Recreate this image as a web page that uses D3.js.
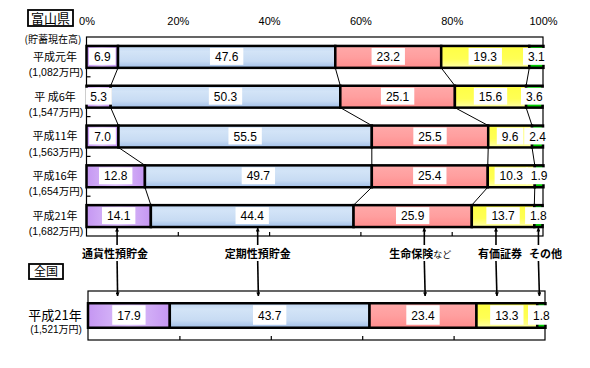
<!DOCTYPE html>
<html>
<head>
<meta charset="utf-8">
<script src="https://cdnjs.cloudflare.com/ajax/libs/d3/7.8.5/d3.min.js"></script>
<style>
    body { margin: 0; background: #fff; }
    svg text { font-family: "Liberation Sans", "Noto Sans CJK JP", sans-serif; fill: #000; }
    .jp { font-family: "Noto Sans CJK JP", sans-serif; }
    .num { font-family: "Liberation Sans Narrow", "Liberation Sans", sans-serif; font-size: 12px; }
</style>
</head>
<body>
<svg id="chart" width="590" height="368"></svg>
<script>
// data (percent of savings)
const categories = ['通貨性預貯金', '定期性預貯金', '生命保険など', '有価証券', 'その他'];

const toyamaYears = ['平成元年', '平 成6年', '平成11年', '平成16年', '平成21年'];
const toyamaTotals = ['(1,082万円)', '(1,547万円)', '(1,563万円)', '(1,654万円)', '(1,682万円)'];
const toyamaCurrency = [6.9, 5.3, 7.0, 12.8, 14.1];
const toyamaTime = [47.6, 50.3, 55.5, 49.7, 44.4];
const toyamaInsurance = [23.2, 25.1, 25.5, 25.4, 25.9];
const toyamaSecurities = [19.3, 15.6, 9.6, 10.3, 13.7];
const toyamaOther = [3.1, 3.6, 2.4, 1.9, 1.8];

const nationYears = ['平成21年'];
const nationTotals = ['(1,521万円)'];
const nationValues = [17.9, 43.7, 23.4, 13.3, 1.8];

const tickValues = [0, 20, 40, 60, 80, 100];

const keys = categories;

const toyamaRows = toyamaYears.map(function(year, i) {
    return {
        year: year,
        total: toyamaTotals[i],
        [keys[0]]: toyamaCurrency[i],
        [keys[1]]: toyamaTime[i],
        [keys[2]]: toyamaInsurance[i],
        [keys[3]]: toyamaSecurities[i],
        [keys[4]]: toyamaOther[i]
    };
});

const nationRows = nationYears.map(function(year, i) {
    let row = { year: year, total: nationTotals[i] };
    keys.forEach(function(k, j) { row[k] = nationValues[j]; });
    return row;
});

const svg = d3.select('#chart');
const defs = svg.append('defs');

function addGradient(id, horizontal, stops) {
    let g = defs.append('linearGradient').attr('id', id)
        .attr('x1', 0).attr('y1', 0)
        .attr('x2', horizontal ? 1 : 0).attr('y2', horizontal ? 0 : 1);
    stops.forEach(function(s) {
        g.append('stop').attr('offset', s[0]).attr('stop-color', s[1]);
    });
}

addGradient('fill0', true, [[0, '#c596f2'], [0.5, '#dcc2fa'], [1, '#c596f2']]);
addGradient('fill1', false, [[0, '#c0d6f2'], [0.25, '#d3e4f7'], [0.7, '#c7dbf3'], [1, '#a0bee8']]);
addGradient('fill2', false, [[0, '#ffa9a9'], [0.5, '#ff9f9f'], [1, '#ff8c8c']]);
addGradient('fill3', false, [[0, '#ffff44'], [0.6, '#ffff55'], [1, '#ffffa8']]);
addGradient('fill4', false, [[0, '#00cc00'], [1, '#00cc00']]);

// arrowheads
['up', 'down'].forEach(function(dir) {
    defs.append('marker')
        .attr('id', 'arrow-' + dir)
        .attr('viewBox', '0 0 10 10')
        .attr('refX', 9).attr('refY', 5)
        .attr('markerWidth', 4).attr('markerHeight', 4)
        .attr('markerUnits', 'userSpaceOnUse')
        .attr('orient', 'auto')
        .append('path').attr('d', 'M0,0 L10,5 L0,10 Z').attr('fill', '#000');
});

const xTop = d3.scaleLinear().domain([0, 100]).range([86.5, 543]);
const yTop = d3.scaleBand().domain(toyamaYears).range([37, 236]).paddingInner(0.45).paddingOuter(0.225);

const xBot = d3.scaleLinear().domain([0, 100]).range([88, 545]);
const yBot = d3.scaleBand().domain(nationYears).range([291, 340]).paddingInner(0.5).paddingOuter(0.25);

function drawFrame(x, y) {
    let r = y.range();
    svg.append('rect')
        .attr('x', x(0)).attr('y', r[0])
        .attr('width', x(100) - x(0)).attr('height', r[1] - r[0])
        .attr('fill', '#fff').attr('stroke', '#000').attr('stroke-width', 1.2);

    let bottom = svg.append('g')
        .attr('transform', 'translate(0,' + r[1] + ')')
        .call(d3.axisBottom(x).tickValues([20, 40, 60, 80]).tickSizeInner(-4).tickSizeOuter(0).tickFormat(''));
    bottom.select('.domain').remove();
    bottom.selectAll('line').attr('stroke-width', 1.2);

    // ticks between categories on the left
    let step = y.step(), gap = step * y.paddingInner();
    svg.selectAll(null)
        .data(y.domain().slice(1))
        .join('line')
        .attr('x1', x(0)).attr('x2', x(0) + 4)
        .attr('y1', d => y(d) - gap / 2).attr('y2', d => y(d) - gap / 2)
        .attr('stroke', '#000').attr('stroke-width', 1.2);
}

function drawStack(rows, x, y, withLinks) {
    let stacked = d3.stack().keys(keys)(rows);
    let bw = y.bandwidth();

    if (withLinks) {
        for (let k = 0; k < keys.length - 1; k++) {
            let s = stacked[k];
            for (let i = 0; i < s.length - 1; i++) {
                svg.append('line')
                    .attr('x1', x(s[i][1])).attr('y1', y(s[i].data.year) + bw)
                    .attr('x2', x(s[i + 1][1])).attr('y2', y(s[i + 1].data.year))
                    .attr('stroke', '#000').attr('stroke-width', 1);
            }
        }
    }

    svg.append('g').selectAll('g')
        .data(stacked)
        .join('g')
        .attr('fill', (d, i) => 'url(#fill' + i + ')')
        .selectAll('rect')
        .data(d => d)
        .join('rect')
        .attr('x', d => x(d[0]))
        .attr('y', d => y(d.data.year))
        .attr('width', d => x(d[1]) - x(d[0]))
        .attr('height', bw)
        .attr('stroke', '#000')
        .attr('stroke-width', 2.5);

    // value labels in white boxes
    stacked.forEach(function(s) {
        s.forEach(function(d) {
            let cx = (x(d[0]) + x(d[1])) / 2,
                top = y(d.data.year);
            let lg = svg.append('g');
            let box = lg.append('rect').attr('fill', '#fff');
            let t = lg.append('text')
                .attr('class', 'num')
                .attr('x', cx).attr('y', top + bw / 2 + 4)
                .attr('text-anchor', 'middle')
                .text((d[1] - d[0]).toFixed(1));
            let w = t.node().getComputedTextLength() + 10;
            box.attr('x', cx - w / 2).attr('y', top + 2)
                .attr('width', w).attr('height', bw - 5);
        });
    });
}

function drawRowLabels(rows, y, size1, size2, gap) {
    let c = y.bandwidth() / 2;
    rows.forEach(function(r) {
        svg.append('text').attr('class', 'jp')
            .attr('x', 55).attr('y', y(r.year) + c + size1 * 0.36)
            .attr('text-anchor', 'middle').attr('font-size', size1)
            .text(r.year);
        svg.append('text')
            .attr('x', 56).attr('y', y(r.year) + c + gap)
            .attr('text-anchor', 'middle').attr('font-size', size2)
            .text(r.total);
    });
}

// ---- Toyama
drawFrame(xTop, yTop);
drawStack(toyamaRows, xTop, yTop, true);
drawRowLabels(toyamaRows, yTop, 11, 10.5, 19);

let topAxis = svg.append('g')
    .attr('transform', 'translate(0,25)')
    .call(d3.axisTop(xTop).tickValues(tickValues).tickSize(0).tickPadding(0).tickFormat(d => d + '%'));
topAxis.select('.domain').remove();
topAxis.selectAll('text').attr('font-size', 11).attr('font-family', '"Liberation Sans Narrow", "Liberation Sans", sans-serif');

svg.append('rect').attr('x', 28).attr('y', 10).attr('width', 45).attr('height', 16)
    .attr('fill', '#fff').attr('stroke', '#000').attr('stroke-width', 1.8);
svg.append('text').attr('class', 'jp').attr('x', 50.5).attr('y', 23)
    .attr('text-anchor', 'middle').attr('font-size', 13).text('富山県');

svg.append('text').attr('class', 'jp').attr('x', 53).attr('y', 43)
    .attr('text-anchor', 'middle').attr('font-size', 10).text('(貯蓄現在高)');

// ---- Nation
drawFrame(xBot, yBot);
drawStack(nationRows, xBot, yBot, false);
drawRowLabels(nationRows, yBot, 13, 10, 17.5);

svg.append('rect').attr('x', 29).attr('y', 264).attr('width', 34).attr('height', 15)
    .attr('fill', '#fff').attr('stroke', '#000').attr('stroke-width', 1.8);
svg.append('text').attr('class', 'jp').attr('x', 46).attr('y', 276)
    .attr('text-anchor', 'middle').attr('font-size', 12).text('全国');

// ---- category callouts with arrows
const calloutAt = [6.7, 37.5, 74, 89.7, 99];
const calloutDx = [-2, 0, -4, 4, 7];

categories.forEach(function(name, i) {
    let p = calloutAt[i];
    let xt = xTop(p), xb = xBot(p) - 1;
    svg.append('line')
        .attr('x1', xt).attr('y1', 246).attr('x2', xt).attr('y2', 228)
        .attr('stroke', '#000').attr('stroke-width', 1.6)
        .attr('marker-end', 'url(#arrow-up)');
    svg.append('line')
        .attr('x1', xt).attr('y1', 261).attr('x2', xb).attr('y2', 296)
        .attr('stroke', '#000').attr('stroke-width', 1.6)
        .attr('marker-end', 'url(#arrow-down)');

    let label = svg.append('text').attr('class', 'jp')
        .attr('x', xt + calloutDx[i]).attr('y', 258)
        .attr('text-anchor', 'middle').attr('font-size', 11).attr('font-weight', 'bold');
    if (name.endsWith('など')) {
        label.append('tspan').text(name.slice(0, -2));
        label.append('tspan').attr('font-size', 9).attr('font-weight', 'normal').text('など');
    } else {
        label.text(name);
    }
    // white behind text so the arrows stop at it
    let bb = label.node().getBBox();
    svg.insert('rect', function() { return label.node(); })
        .attr('x', bb.x - 1).attr('y', bb.y).attr('width', bb.width + 2).attr('height', bb.height)
        .attr('fill', '#fff');
});
</script>
</body>
</html>
